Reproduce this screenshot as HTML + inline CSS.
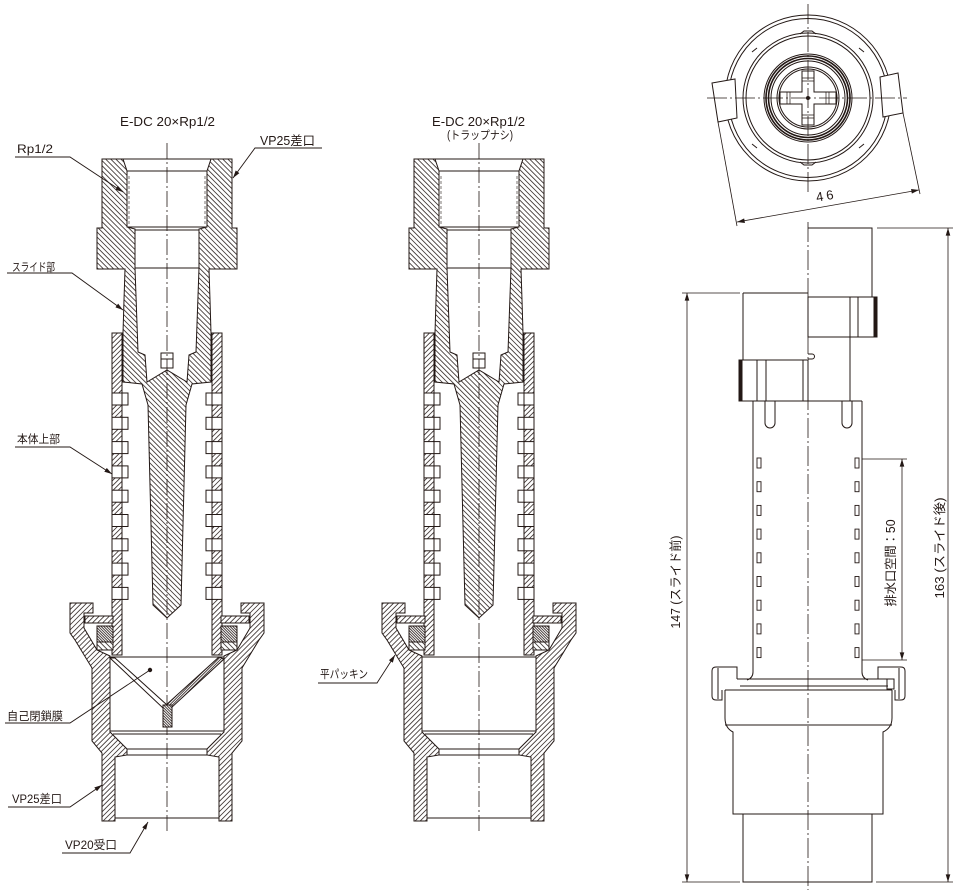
<!DOCTYPE html>
<html><head><meta charset="utf-8">
<style>
html,body{margin:0;padding:0;background:#fff;}
svg{display:block;}
text{font-family:"Liberation Sans","Noto Sans CJK JP",sans-serif;fill:#231815;stroke:none;}
</style></head><body>
<svg width="957" height="892" viewBox="0 0 957 892" xmlns="http://www.w3.org/2000/svg">
<defs>
<pattern id="hb" patternUnits="userSpaceOnUse" width="3.6" height="10" patternTransform="rotate(-45)"><rect width="3.6" height="10" fill="#fff"/><line x1="1.8" y1="0" x2="1.8" y2="10" stroke="#231815" stroke-width="0.75"/></pattern>
<pattern id="hf" patternUnits="userSpaceOnUse" width="3.6" height="10" patternTransform="rotate(45)"><rect width="3.6" height="10" fill="#fff"/><line x1="1.8" y1="0" x2="1.8" y2="10" stroke="#231815" stroke-width="0.75"/></pattern>
<pattern id="hd" patternUnits="userSpaceOnUse" width="1.9" height="10" patternTransform="rotate(-45)"><rect width="1.9" height="10" fill="#fff"/><line x1="0.95" y1="0" x2="0.95" y2="10" stroke="#231815" stroke-width="0.8"/></pattern>
<pattern id="hd2" patternUnits="userSpaceOnUse" width="1.9" height="10" patternTransform="rotate(45)"><rect width="1.9" height="10" fill="#fff"/><line x1="0.95" y1="0" x2="0.95" y2="10" stroke="#231815" stroke-width="0.8"/></pattern>
<marker id="ar" viewBox="0 0 10 6" refX="10" refY="3" markerWidth="8" markerHeight="4.6" markerUnits="userSpaceOnUse" orient="auto-start-reverse"><path d="M0,0 L10,3 L0,6 Z" fill="#231815"/></marker>
</defs>

<!-- ================= SECTION VIEW (left) ================= -->
<g id="sec" stroke="#231815" stroke-width="1" fill="none">
  <!-- main slide piece -->
  <path fill="url(#hb)" d="M102,159 L123,159 L127,171 L127,227 L135,229 L135,268 L138,352 L145,355 L147,382 L167,370 L187,382 L189,355 L196,352 L199,268 L199,229 L207,227 L207,171 L211,159 L232,159 L232,228 L237,228 L237,269 L209,269 L210,300 L211,333 L211,382 L192,384 L186,405 L181,605 L167,618 L153,605 L148,405 L142,384 L123,382 L123,333 L124,300 L125,269 L97,269 L97,228 L102,228 Z"/>
  <path d="M123,159 H211 M127,171 H207 M127,227 H207 M135,230 H199 M135,268 H199"/>
  <path d="M129,176 V224 M205,176 V224" stroke-width="0.6" stroke-dasharray="3 2"/>
  <rect x="161" y="353" width="12" height="15" fill="#fff"/>
  <line x1="161" y1="359" x2="173" y2="359"/>

  <!-- body upper walls -->
  <rect x="112" y="333" width="10" height="322" fill="url(#hf)"/>
  <rect x="212" y="333" width="10" height="322" fill="url(#hf)"/>
  <g fill="#fff">
    <rect x="112" y="393" width="16" height="12"/><rect x="206" y="393" width="16" height="12"/>
    <rect x="112" y="417.3" width="16" height="12"/><rect x="206" y="417.3" width="16" height="12"/>
    <rect x="112" y="441.6" width="16" height="12"/><rect x="206" y="441.6" width="16" height="12"/>
    <rect x="112" y="465.9" width="16" height="12"/><rect x="206" y="465.9" width="16" height="12"/>
    <rect x="112" y="490.2" width="16" height="12"/><rect x="206" y="490.2" width="16" height="12"/>
    <rect x="112" y="514.5" width="16" height="12"/><rect x="206" y="514.5" width="16" height="12"/>
    <rect x="112" y="538.8" width="16" height="12"/><rect x="206" y="538.8" width="16" height="12"/>
    <rect x="112" y="563.1" width="16" height="12"/><rect x="206" y="563.1" width="16" height="12"/>
    <rect x="112" y="587.4" width="16" height="12"/><rect x="206" y="587.4" width="16" height="12"/>
  </g>
  <path d="M122,393v12M122,417.3v12M122,441.6v12M122,465.9v12M122,490.2v12M122,514.5v12M122,538.8v12M122,563.1v12M122,587.4v12 M212,393v12M212,417.3v12M212,441.6v12M212,465.9v12M212,490.2v12M212,514.5v12M212,538.8v12M212,563.1v12M212,587.4v12"/>

  <!-- lower body + nut -->
  <path fill="url(#hf)" d="M70,603 L93,603 L93,613 L84,613 L84,628 L97,650 L110,656 L110,732 L127,749 L127,755 L115,757 L115,821 L102,821 L102,753 L92,741 L92,668 L75,640 L70,633 Z"/>
  <path fill="url(#hf)" d="M264,603 L241,603 L241,613 L250,613 L250,628 L237,650 L224,656 L224,732 L207,749 L207,755 L219,757 L219,821 L232,821 L232,753 L242,741 L242,668 L259,640 L264,633 Z"/>
  <!-- gaskets -->
  <rect x="85" y="616" width="28" height="7" fill="url(#hf)"/>
  <rect x="221" y="616" width="28" height="7" fill="url(#hf)"/>
  <rect x="97" y="626" width="16" height="16" fill="url(#hd)"/>
  <rect x="221" y="626" width="16" height="16" fill="url(#hd)"/>
  <rect x="97" y="642" width="16" height="8" fill="url(#hb)"/>
  <rect x="221" y="642" width="16" height="8" fill="url(#hb)"/>
  <!-- interior lines -->
  <path d="M110,657 H224 M110,731 H224 M113,734 H221 M127,749 H207 M127,755 H207 M115,818 H219"/>
  <!-- centerline -->
  <line x1="167" y1="143" x2="167" y2="831" stroke-width="0.8" stroke-dasharray="16 3 2 3"/>
</g>

<!-- membrane (left only) -->
<g stroke="#231815" stroke-width="1">
  <polygon points="110,658 115,658 167,705 163,708" fill="#fff"/>
  <polygon points="219,657 224,659 171,708 166,705" fill="url(#hd2)"/>
  <rect x="163" y="705" width="9" height="22" fill="url(#hd)"/>
</g>

<!-- middle section (trap-less) -->
<use href="#sec" transform="translate(312,0)"/>

<!-- ================= LABELS & LEADERS ================= -->
<g stroke="#231815" stroke-width="0.9" fill="none">
  <polyline points="15,157 70,157 123,192" marker-end="url(#ar)"/>
  <polyline points="322,148 255,148 233,178" marker-end="url(#ar)"/>
  <polyline points="7,273 72,273 123,310" marker-end="url(#ar)"/>
  <polyline points="15,447 70,447 112,474" marker-end="url(#ar)"/>
  <polyline points="5,723 70,723 150,670"/>
  <polyline points="8,807 70,807 102,785" marker-end="url(#ar)"/>
  <polyline points="62,853 130,853 148,822" marker-end="url(#ar)"/>
  <polyline points="318,683 377,683 395,655" marker-end="url(#ar)"/>
</g>
<circle cx="150" cy="670" r="2.2" fill="#231815"/>

<text x="120" y="126" font-size="12.5" textLength="95" lengthAdjust="spacingAndGlyphs">E-DC 20×Rp1/2</text>
<text x="17" y="153" font-size="12" textLength="36" lengthAdjust="spacingAndGlyphs">Rp1/2</text>
<text x="260" y="145" font-size="12.5" textLength="55" lengthAdjust="spacingAndGlyphs">VP25差口</text>
<text x="12" y="271" font-size="11.5" textLength="43" lengthAdjust="spacingAndGlyphs">スライド部</text>
<text x="17" y="443" font-size="11.5" textLength="43" lengthAdjust="spacingAndGlyphs">本体上部</text>
<text x="7" y="720" font-size="11.5" textLength="56" lengthAdjust="spacingAndGlyphs">自己閉鎖膜</text>
<text x="12" y="803" font-size="12" textLength="50" lengthAdjust="spacingAndGlyphs">VP25差口</text>
<text x="65" y="849" font-size="12" textLength="52" lengthAdjust="spacingAndGlyphs">VP20受口</text>
<text x="432" y="126" font-size="12.5" textLength="93" lengthAdjust="spacingAndGlyphs">E-DC 20×Rp1/2</text>
<text x="447" y="139" font-size="11.5" textLength="66" lengthAdjust="spacingAndGlyphs">(トラップナシ)</text>
<text x="320" y="678" font-size="11.5" textLength="48" lengthAdjust="spacingAndGlyphs">平パッキン</text>

<!-- ================= TOP VIEW ================= -->
<g stroke="#231815" fill="none" stroke-width="1">
  <circle cx="808" cy="98" r="83"/>
  <circle cx="808" cy="98" r="79.5"/>
  <circle cx="808" cy="98" r="65"/>
  <circle cx="808" cy="98" r="62"/>
  <path d="M800,34 L804,31 L812,31 L816,34 M800,162 L804,165 L812,165 L816,162"/>
  <path d="M752,52 L757,48 M864,52 L859,48 M752,144 L757,148 M864,144 L859,148"/>
  <circle cx="808" cy="98" r="44"/>
  <circle cx="808" cy="98" r="42" stroke-width="1.6"/>
  <circle cx="808" cy="98" r="39.5" stroke-width="1.6"/>
  <circle cx="808" cy="98" r="37"/>
  <circle cx="808" cy="98" r="31"/>
  <circle cx="808" cy="98" r="29"/>
  <path fill="#fff" d="M802,71 L814,71 L814,92 L836,92 L836,104 L814,104 L814,125 L802,125 L802,104 L780,104 L780,92 L802,92 Z"/>
  <path d="M802,78 H814 M802,81 H814 M802,115 H814 M802,118 H814 M787,92 V104 M790,92 V104 M826,92 V104 M829,92 V104" stroke-width="0.7"/>
  <polygon points="712,83 735,79 737,118 718,122" fill="#fff"/>
  <polygon points="880,77 898,73 903,113 883,117" fill="#fff"/>
  <line x1="707" y1="98" x2="907" y2="98" stroke-width="0.8" stroke-dasharray="20 3 2 3"/>
  <line x1="808" y1="4" x2="808" y2="192" stroke-width="0.8" stroke-dasharray="20 3 2 3"/>
  <circle cx="808" cy="98" r="1.5" fill="#231815"/>
  <!-- dim 46 -->
  <line x1="718" y1="122" x2="737" y2="226" stroke-width="0.8"/>
  <line x1="903" y1="113" x2="920" y2="194" stroke-width="0.8"/>
  <line x1="737" y1="222" x2="919" y2="190" stroke-width="0.8" marker-start="url(#ar)" marker-end="url(#ar)"/>
</g>
<text transform="translate(827,200) rotate(-10)" font-size="13" text-anchor="middle" letter-spacing="3">46</text>

<!-- ================= SIDE VIEW ================= -->
<g stroke="#231815" fill="none" stroke-width="1">
  <path d="M808,228 H872 V297"/>
  <path d="M877,228 H953" stroke-width="0.8"/>
  <rect x="808" y="297" width="69" height="40" fill="#fff"/>
  <path d="M850,297 V337 M858,297 V337"/>
  <rect x="874" y="297" width="3" height="40" fill="#231815"/>
  <path d="M850,337 V401"/>
  <path d="M682,293 H740" stroke-width="0.8"/>
  <path d="M743,293 H808 M743,293 V360"/>
  <rect x="739" y="360" width="69" height="41" fill="#fff"/>
  <path d="M757,360 V401 M766,360 V401 M803,360 V401"/>
  <rect x="739" y="360" width="3" height="41" fill="#231815"/>
  <path d="M808,354 h4 a2.5,2.5 0 0 1 0,5 h-4"/>
  <path d="M808,401 H862"/>
  <!-- tube -->
  <path d="M753,401 V672 Q753,678 747,680"/>
  <path d="M862,401 V672 Q862,678 868,680"/>
  <path d="M765,401 V423 A5,5 0 0 0 775,423 V401"/>
  <path d="M842,401 V423 A5,5 0 0 0 852,423 V401"/>
  <g stroke-width="0.9">
    <rect x="757" y="458" width="4" height="10"/><rect x="855" y="458" width="4" height="10"/>
    <rect x="757" y="481.7" width="4" height="10"/><rect x="855" y="481.7" width="4" height="10"/>
    <rect x="757" y="505.4" width="4" height="10"/><rect x="855" y="505.4" width="4" height="10"/>
    <rect x="757" y="529.1" width="4" height="10"/><rect x="855" y="529.1" width="4" height="10"/>
    <rect x="757" y="552.8" width="4" height="10"/><rect x="855" y="552.8" width="4" height="10"/>
    <rect x="757" y="576.5" width="4" height="10"/><rect x="855" y="576.5" width="4" height="10"/>
    <rect x="757" y="600.2" width="4" height="10"/><rect x="855" y="600.2" width="4" height="10"/>
    <rect x="757" y="623.9" width="4" height="10"/><rect x="855" y="623.9" width="4" height="10"/>
    <rect x="757" y="647.6" width="4" height="10"/><rect x="855" y="647.6" width="4" height="10"/>
  </g>
  <!-- dim 50 -->
  <path d="M862,459 H907 M862,660 H907" stroke-width="0.8"/>
  <line x1="902" y1="459" x2="902" y2="660" stroke-width="0.8" marker-start="url(#ar)" marker-end="url(#ar)"/>
  <!-- band & nuts -->
  <path d="M737,679 H888 M740,686 H888 M725,690 H892"/>
  <path d="M737,679 V667 H716 Q712,667 712,671 V696 Q712,700 716,700 H722 V690"/>
  <path d="M718,668 V699"/>
  <path d="M878,679 V667 H901 Q905,667 905,671 V696 Q905,700 901,700 H895 V690"/>
  <path d="M899,668 V699"/>
  <rect x="887" y="679" width="7" height="10"/>
  <path d="M725,690 V718 Q725,728 733,732 V814 H883 V732 Q892,728 892,718 V690"/>
  <path d="M725,725 H892"/>
  <rect x="743" y="814" width="129" height="68"/>
  <path d="M682,882 H740 M876,882 H953" stroke-width="0.8"/>
  <line x1="687" y1="293" x2="687" y2="882" stroke-width="0.8" marker-start="url(#ar)" marker-end="url(#ar)"/>
  <line x1="948" y1="228" x2="948" y2="882" stroke-width="0.8" marker-start="url(#ar)" marker-end="url(#ar)"/>
  <line x1="808" y1="222" x2="808" y2="890" stroke-width="0.8" stroke-dasharray="20 3 2 3"/>
</g>
<text transform="translate(895,563) rotate(-90)" font-size="12.5" text-anchor="middle" textLength="87" lengthAdjust="spacingAndGlyphs">排水口空間：50</text>
<text transform="translate(944,548) rotate(-90)" font-size="12.5" text-anchor="middle" textLength="101" lengthAdjust="spacingAndGlyphs">163 (スライド後)</text>
<text transform="translate(680,582) rotate(-90)" font-size="12.5" text-anchor="middle" textLength="93" lengthAdjust="spacingAndGlyphs">147 (スライド前)</text>
</svg>
</body></html>
